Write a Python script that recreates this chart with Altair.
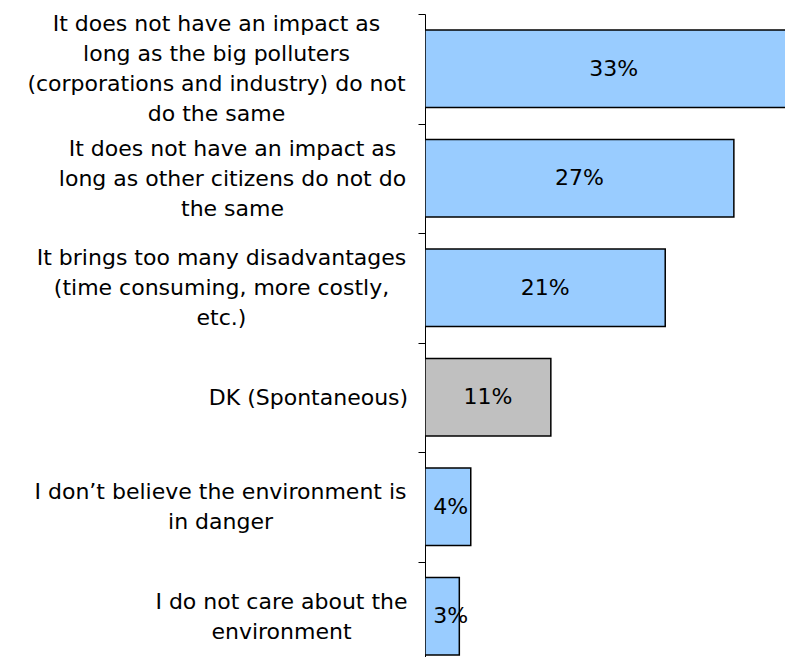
import altair as alt
import pandas as pd

categories = [
    "It does not have an impact as|long as the big polluters|(corporations and industry) do not|do the same",
    "It does not have an impact as|long as other citizens do not do|the same",
    "It brings too many disadvantages|(time consuming, more costly,|etc.)",
    "DK (Spontaneous)",
    "I don\u2019t believe the environment is|in danger",
    "I do not care about the|environment",
]
values = [33, 27, 21, 11, 4, 3]
kinds = ["answer", "answer", "answer", "dk", "answer", "answer"]

df = pd.DataFrame({"cat": categories, "value": values, "kind": kinds})
df["label"] = df["value"].astype(str) + "%"

# per-label padding so that multi-line blocks are right-aligned with centred lines
pads = [202, 186, 197, 110, 198, 137]
LINE_H = 30
pad_cond = {
    "condition": [
        {"test": 'datum.value === "' + c + '"', "value": p}
        for c, p in zip(categories, pads)
    ],
    "value": 150,
}
off_cond = {
    "condition": [
        {"test": 'datum.value === "' + c + '"', "value": -(c.count("|")) * LINE_H / 2}
        for c in categories
    ],
    "value": 0,
}

FONT = "DejaVu Sans"

y = alt.Y(
    "cat:N",
    sort=None,
    scale=alt.Scale(paddingInner=0, paddingOuter=0, range=[0, 657]),
    axis=alt.Axis(
        title=None,
        labelExpr="split(datum.label, '|')",
        labelFont=FONT,
        labelFontSize=22,
        labelColor="black",
        labelLineHeight=LINE_H,
        labelLimit=0,
        labelAlign="center",
        labelBaseline="middle",
        labelPadding=pad_cond,
        labelOffset=off_cond,
        tickBand="extent",
        tickSize=7,
        tickColor="black",
        domainColor="black",
        grid=False,
    ),
)

x = alt.X(
    "value:Q",
    scale=alt.Scale(domain=[0, 31.47], nice=False, zero=True),
    axis=None,
)

bars = alt.Chart(df).mark_bar(
    clip=True,
    stroke="black",
    strokeWidth=1.5,
    height=alt.RelativeBandSize(0.71),
).encode(
    y=y,
    x=x,
    color=alt.Color(
        "kind:N",
        scale=alt.Scale(domain=["answer", "dk"], range=["#99CCFF", "#C0C0C0"]),
        legend=None,
    ),
)

# labels centred in the bar, but kept a little away from the axis for tiny bars
texts = alt.Chart(df).transform_calculate(
    mid="max(datum.value / 2, 2.25)"
).mark_text(
    font=FONT, fontSize=22, color="black", align="center", baseline="middle"
).encode(
    y=alt.Y("cat:N", sort=None),
    x=alt.X("mid:Q"),
    text="label:N",
)

chart = alt.layer(bars, texts).properties(
    width=360,
    height=643,
    autosize=alt.AutoSizeParams(type="none"),
    padding={"left": 417, "top": 6, "right": 0, "bottom": 0},
    background="white",
).configure_view(stroke=None)

chart.save("out.html", embed_options={"renderer": "svg", "actions": False})
